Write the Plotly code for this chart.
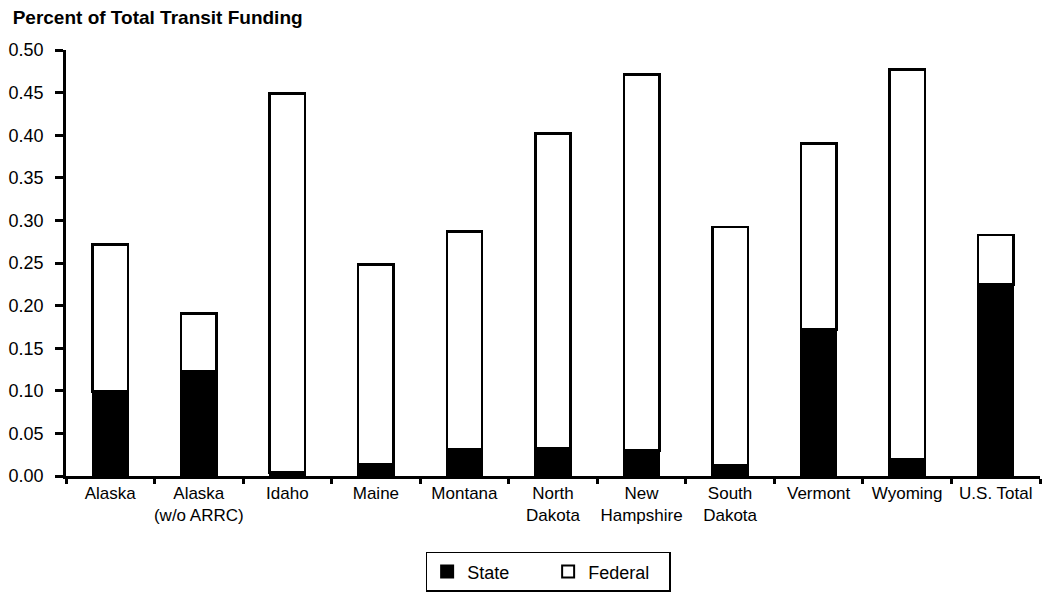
import plotly.graph_objects as go

categories = ["Alaska", "Alaska<br>(w/o ARRC)", "Idaho", "Maine", "Montana", "North<br>Dakota",
              "New<br>Hampshire", "South<br>Dakota", "Vermont", "Wyoming", "U.S. Total"]
totals = [0.272, 0.191, 0.449, 0.248, 0.287, 0.402, 0.471, 0.292, 0.390, 0.477, 0.283]
state = [0.099, 0.123, 0.004, 0.014, 0.031, 0.033, 0.030, 0.013, 0.172, 0.020, 0.225]
federal = [round(t - s, 3) for t, s in zip(totals, state)]
ytick_vals = [0.00, 0.05, 0.10, 0.15, 0.20, 0.25, 0.30, 0.35, 0.40, 0.45, 0.50]
ytick_text = ["%.2f" % v for v in ytick_vals]

FONT = "Liberation Sans, Arial, sans-serif"

fig = go.Figure()
fig.add_trace(go.Bar(x=categories, y=state, name="State",
                     marker=dict(color="black", line=dict(color="black", width=2))))
fig.add_trace(go.Bar(x=categories, y=federal, name="Federal",
                     marker=dict(color="white", line=dict(color="black", width=2.5))))

n = len(categories)
fig.update_layout(
    barmode="stack",
    bargap=0.6,
    width=1056, height=598,
    margin=dict(l=66, r=16, t=50, b=122, autoexpand=False),
    paper_bgcolor="white", plot_bgcolor="white",
    font=dict(family=FONT, size=17, color="black"),
    title=dict(text="<b>Percent of Total Transit Funding</b>", x=0.012, xref="container",
               xanchor="left", y=1 - 17 / 598, yref="container", yanchor="middle",
               font=dict(family=FONT, size=19, color="black")),
    showlegend=True,
    legend=dict(orientation="h", x=0.495, xanchor="center", y=-0.178, yanchor="top",
                bordercolor="black", borderwidth=1.5, bgcolor="white",
                font=dict(family=FONT, size=18), traceorder="normal",
                itemsizing="constant", entrywidth=76),
    xaxis=dict(type="category", showline=True, linecolor="black", linewidth=2.5,
               ticks="outside", tickson="boundaries", ticklen=5, tickwidth=2.5,
               tickcolor="black", showgrid=False, zeroline=False, tickangle=0,
               automargin=False,
               range=[-0.5, n - 0.5], tickfont=dict(family=FONT, size=17)),
    yaxis=dict(range=[0, 0.5], tickvals=ytick_vals, ticktext=ytick_text,
               showline=True, linecolor="black", linewidth=2.5,
               ticks="outside", ticklen=8, tickwidth=2.5, tickcolor="black",
               ticklabelstandoff=8, automargin=False,
               showgrid=False, zeroline=False, tickfont=dict(family=FONT, size=18)),
    xaxis2=dict(overlaying="x", anchor="y", side="bottom", type="linear",
                range=[-0.5, n - 0.5], tickvals=[i + 0.5 for i in range(n)],
                ticks="inside", ticklen=8, tickwidth=2.5, tickcolor="black",
                automargin=False,
                showticklabels=False, showgrid=False, zeroline=False, showline=False),
    yaxis2=dict(overlaying="y", anchor="x", side="left", range=[0, 0.5],
                tickvals=ytick_vals, ticks="inside", ticklen=8, tickwidth=2.5,
                tickcolor="black", showticklabels=False, showgrid=False,
                automargin=False,
                zeroline=False, showline=False),
)
fig.write_html("out.html", config={"displayModeBar": False},
               post_script="document.body.style.margin='0';")
